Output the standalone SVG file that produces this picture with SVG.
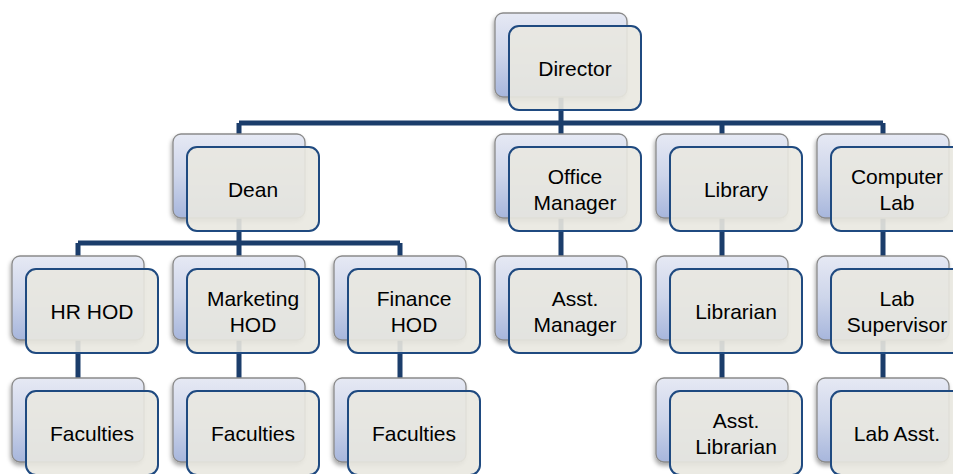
<svg xmlns="http://www.w3.org/2000/svg" width="953" height="474" viewBox="0 0 953 474">
<defs>
<linearGradient id="backGrad" x1="0" y1="0" x2="0" y2="1">
<stop offset="0" stop-color="#e6e9f4"/>
<stop offset="0.5" stop-color="#cdd5ea"/>
<stop offset="1" stop-color="#a7b6dc"/>
</linearGradient>
<filter id="shadow" x="-10%" y="-10%" width="125%" height="130%">
<feDropShadow dx="-1" dy="3" stdDeviation="2" flood-color="#000" flood-opacity="0.35"/>
</filter>
<style>
.back{fill:url(#backGrad);stroke:#8a8a8a;stroke-width:1.3;filter:url(#shadow)}
.front{fill:#e9e8e0;fill-opacity:0.9;stroke:#1f4a80;stroke-width:2}
.conn{fill:none;stroke:#1b3d6b;stroke-width:5}
text{font-family:"Liberation Sans",Arial,sans-serif;font-size:21px;fill:#000;text-anchor:middle}
</style>
</defs>
<rect width="953" height="474" fill="#fff"/>
<g id="connectors">
<path class="conn" d="M561 60V123M239 123H883M239 123V170M561 123V170M722 123V170M883 123V170"/>
<path class="conn" d="M239 200V243M78 243H400M78 243V280M239 243V280M400 243V280M561 200V280M722 200V280M883 200V280"/>
<path class="conn" d="M78 320V400M239 320V400M400 320V400M722 320V400M883 320V400"/>
</g>
<g id="director"><rect class="back" x="495" y="13" width="132" height="84" rx="8"/><rect class="front" x="509" y="26" width="132" height="84" rx="10"/><text x="575" y="76">Director</text></g>
<g id="dean"><rect class="back" x="173" y="134" width="132" height="84" rx="8"/><rect class="front" x="187" y="147" width="132" height="84" rx="10"/><text x="253" y="197">Dean</text></g>
<g id="office-manager"><rect class="back" x="495" y="134" width="132" height="84" rx="8"/><rect class="front" x="509" y="147" width="132" height="84" rx="10"/><text x="575" y="184">Office</text><text x="575" y="210">Manager</text></g>
<g id="library"><rect class="back" x="656" y="134" width="132" height="84" rx="8"/><rect class="front" x="670" y="147" width="132" height="84" rx="10"/><text x="736" y="197">Library</text></g>
<g id="computer-lab"><rect class="back" x="817" y="134" width="132" height="84" rx="8"/><rect class="front" x="831" y="147" width="132" height="84" rx="10"/><text x="897" y="184">Computer</text><text x="897" y="210">Lab</text></g>
<g id="hr-hod"><rect class="back" x="12" y="256" width="132" height="84" rx="8"/><rect class="front" x="26" y="269" width="132" height="84" rx="10"/><text x="92" y="319">HR HOD</text></g>
<g id="marketing-hod"><rect class="back" x="173" y="256" width="132" height="84" rx="8"/><rect class="front" x="187" y="269" width="132" height="84" rx="10"/><text x="253" y="306">Marketing</text><text x="253" y="332">HOD</text></g>
<g id="finance-hod"><rect class="back" x="334" y="256" width="132" height="84" rx="8"/><rect class="front" x="348" y="269" width="132" height="84" rx="10"/><text x="414" y="306">Finance</text><text x="414" y="332">HOD</text></g>
<g id="asst-manager"><rect class="back" x="495" y="256" width="132" height="84" rx="8"/><rect class="front" x="509" y="269" width="132" height="84" rx="10"/><text x="575" y="306">Asst.</text><text x="575" y="332">Manager</text></g>
<g id="librarian"><rect class="back" x="656" y="256" width="132" height="84" rx="8"/><rect class="front" x="670" y="269" width="132" height="84" rx="10"/><text x="736" y="319">Librarian</text></g>
<g id="lab-supervisor"><rect class="back" x="817" y="256" width="132" height="84" rx="8"/><rect class="front" x="831" y="269" width="132" height="84" rx="10"/><text x="897" y="306">Lab</text><text x="897" y="332">Supervisor</text></g>
<g id="faculties-hr"><rect class="back" x="12" y="378" width="132" height="84" rx="8"/><rect class="front" x="26" y="391" width="132" height="84" rx="10"/><text x="92" y="441">Faculties</text></g>
<g id="faculties-marketing"><rect class="back" x="173" y="378" width="132" height="84" rx="8"/><rect class="front" x="187" y="391" width="132" height="84" rx="10"/><text x="253" y="441">Faculties</text></g>
<g id="faculties-finance"><rect class="back" x="334" y="378" width="132" height="84" rx="8"/><rect class="front" x="348" y="391" width="132" height="84" rx="10"/><text x="414" y="441">Faculties</text></g>
<g id="asst-librarian"><rect class="back" x="656" y="378" width="132" height="84" rx="8"/><rect class="front" x="670" y="391" width="132" height="84" rx="10"/><text x="736" y="428">Asst.</text><text x="736" y="454">Librarian</text></g>
<g id="lab-asst"><rect class="back" x="817" y="378" width="132" height="84" rx="8"/><rect class="front" x="831" y="391" width="132" height="84" rx="10"/><text x="897" y="441">Lab Asst.</text></g>
</svg>
